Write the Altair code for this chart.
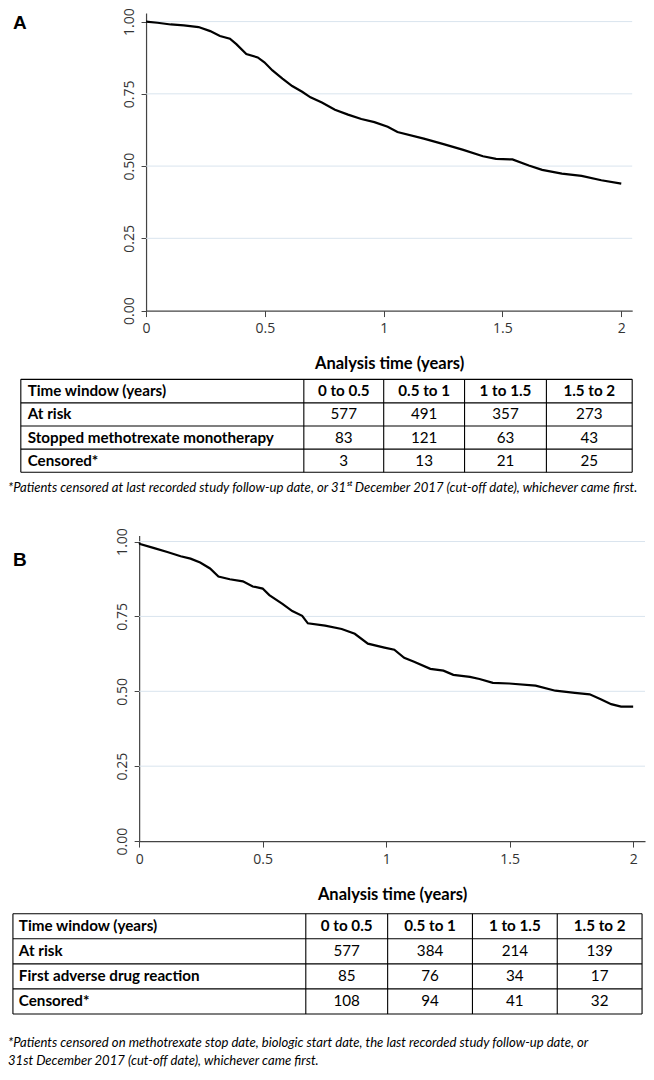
import altair as alt
import pandas as pd

# ---------------- data ----------------
time_a = [0, 0.048, 0.104, 0.159, 0.221, 0.27, 0.311, 0.353, 0.38, 0.422, 0.47, 0.498,
          0.532, 0.574, 0.615, 0.657, 0.692, 0.74, 0.795, 0.85, 0.906, 0.961, 1.017,
          1.058, 1.169, 1.252, 1.335, 1.418, 1.473, 1.542, 1.611, 1.667, 1.75, 1.833,
          1.916, 2.0]
surv_a = [1.0, 0.996, 0.990, 0.987, 0.981, 0.967, 0.950, 0.941, 0.922, 0.888, 0.876, 0.859,
          0.831, 0.803, 0.777, 0.757, 0.738, 0.720, 0.695, 0.678, 0.663, 0.652, 0.636,
          0.618, 0.595, 0.576, 0.556, 0.534, 0.525, 0.523, 0.502, 0.487, 0.474, 0.466,
          0.451, 0.439]

time_b = [0, 0.004, 0.061, 0.114, 0.168, 0.208, 0.247, 0.287, 0.321, 0.367, 0.42, 0.46,
          0.5, 0.527, 0.58, 0.62, 0.66, 0.683, 0.753, 0.82, 0.873, 0.926, 0.993, 1.033,
          1.073, 1.113, 1.179, 1.232, 1.272, 1.339, 1.378, 1.432, 1.498, 1.605, 1.685,
          1.764, 1.824, 1.871, 1.911, 1.951, 2.0]
surv_b = [0.995, 0.992, 0.978, 0.965, 0.951, 0.943, 0.930, 0.910, 0.883, 0.874, 0.867, 0.850,
          0.843, 0.821, 0.792, 0.768, 0.752, 0.727, 0.719, 0.708, 0.692, 0.659, 0.646, 0.639,
          0.612, 0.599, 0.575, 0.569, 0.555, 0.548, 0.541, 0.528, 0.526, 0.519, 0.502,
          0.495, 0.490, 0.473, 0.457, 0.449, 0.449]

y_ticks = [0.0, 0.25, 0.5, 0.75, 1.0]
x_ticks = [0, 0.5, 1, 1.5, 2]
grid_levels = [0.25, 0.5, 0.75, 1.0]

table_header = ["Time window (years)", "0 to 0.5", "0.5 to 1", "1 to 1.5", "1.5 to 2"]
row_labels_a = ["At risk", "Stopped methotrexate monotherapy", "Censored*"]
at_risk_a = [577, 491, 357, 273]
stopped_a = [83, 121, 63, 43]
censored_a = [3, 13, 21, 25]
row_labels_b = ["At risk", "First adverse drug reaction", "Censored*"]
at_risk_b = [577, 384, 214, 139]
adr_b = [85, 76, 34, 17]
censored_b = [108, 94, 41, 32]

panel_labels = ["A", "B"]
x_title = "Analysis time (years)"
footnote_a = ["*Patients censored at last recorded study follow-up date, or 31\u02e2\u1d57 December 2017 "
              "(cut-off date), whichever came first."]
footnote_b = ["*Patients censored on methotrexate stop date, biologic start date, the last recorded "
              "study follow-up date, or",
              "31st December 2017 (cut-off date), whichever came first."]

# ---------------- layout (reference page pixels) ----------------
PAGE_W, PAGE_H = 654, 1080
VIEW_W, VIEW_H = 638, 1060                 # drawing area that fits inside the window
X_LEFT, X_RIGHT = 5, 652                   # horizontal extent of the reference content
Y_TOP, Y_BOT = 3, 1082                     # vertical extent of the reference content
KX = VIEW_W / (X_RIGHT - X_LEFT)
KY = VIEW_H / (Y_BOT - Y_TOP)


def rx(x):
    return (x - X_LEFT) * KX


def ry(y):
    return (y - Y_TOP) * KY


PLOT_A = dict(x0=145, x1=638, tmax=2.046, y0=311, y1=8, smax=1.03)
PLOT_B = dict(x0=138, x1=651, tmax=2.048, y0=851, y1=540, smax=1.02)

TABLE_A = dict(x=[18, 305, 386, 468, 551, 638], y=[381, 405, 428.5, 452, 475.5], pad=7)
TABLE_B = dict(x=[10, 307, 390, 476, 562, 648], y=[925, 950.5, 976, 1001.5, 1027], pad=6)

LABEL_POS = [(10, 18), (10, 565)]
FOOT_A_POS = [(5, 492)]
FOOT_B_POS = [(5, 1057), (5, 1075)]

TICK_FONT = "Open Sans"
TEXT_FONT = "Lato"
AXIS_COL = "#444444"
GRID_COL = "#d9e4ee"
TABLE_FS = 15.2
FOOT_FS = 13.1


def page_x():
    return alt.Scale(domain=[0, PAGE_W], range=[rx(0), rx(PAGE_W)], nice=False, zero=False)


def page_y():
    return alt.Scale(domain=[0, PAGE_H], range=[ry(0), ry(PAGE_H)], nice=False, zero=False)


def km_layers(times, surv, frame):
    df = pd.DataFrame({"t": times, "s": surv})
    xr = [rx(frame["x0"]), rx(frame["x1"])]
    yr = [ry(frame["y0"]), ry(frame["y1"])]

    def xs():
        return alt.Scale(domain=[0, frame["tmax"]], range=xr, nice=False, zero=False)

    def ys():
        return alt.Scale(domain=[0, frame["smax"]], range=yr, nice=False, zero=False)

    grid_df = pd.DataFrame({"g": grid_levels, "a": [0] * len(grid_levels),
                            "b": [frame["tmax"]] * len(grid_levels)})
    grid = alt.Chart(grid_df).mark_rule(color=GRID_COL, strokeWidth=1).encode(
        x=alt.X("a:Q", scale=xs(), axis=None),
        x2="b:Q",
        y=alt.Y("g:Q", scale=ys(), axis=None),
    )
    line = alt.Chart(df).mark_line(color="black", strokeWidth=2.2, interpolate="linear").encode(
        x=alt.X("t:Q", scale=xs(), axis=alt.Axis(
            orient="bottom", offset=yr[0] - VIEW_H, values=x_ticks, format="~g",
            labelFont=TICK_FONT, labelFontSize=14, labelColor="#333333", labelPadding=5,
            tickSize=6, tickColor=AXIS_COL, domainColor=AXIS_COL, domainWidth=1.2,
            grid=False, labelFlush=False, labelOverlap=False,
            title=x_title, titleFont=TEXT_FONT, titleFontSize=16.5, titleFontWeight="bold",
            titleColor="black", titlePadding=20)),
        y=alt.Y("s:Q", scale=ys(), axis=alt.Axis(
            orient="left", offset=-xr[0], values=y_ticks, format=".2f",
            labelFont=TICK_FONT, labelFontSize=14, labelColor="#333333",
            labelAngle=270, labelAlign="center", labelBaseline="bottom", labelPadding=5,
            tickSize=5, tickColor=AXIS_COL, domainColor=AXIS_COL, domainWidth=1.2,
            grid=False, labelFlush=False, labelOverlap=False, title=None)),
    )
    return [grid, line]


def table_frames(tab):
    xs, ys = tab["x"], tab["y"]
    rows = []
    for y in ys:
        rows.append({"x1": xs[0], "x2": xs[-1], "y1": y, "y2": y})
    for x in xs:
        rows.append({"x1": x, "x2": x, "y1": ys[0], "y2": ys[-1]})
    return rows


def table_cells(tab, labels, series):
    xs, ys = tab["x"], tab["y"]
    mids_y = [(ys[i] + ys[i + 1]) / 2 for i in range(len(ys) - 1)]
    mids_x = [(xs[i] + xs[i + 1]) / 2 for i in range(1, len(xs) - 1)]
    bold_left, bold_center, plain = [], [], []
    bold_left.append({"x": xs[0] + tab["pad"], "y": mids_y[0], "t": table_header[0]})
    for j, h in enumerate(table_header[1:]):
        bold_center.append({"x": mids_x[j], "y": mids_y[0], "t": h})
    for i, (lab, vals) in enumerate(zip(labels, series)):
        bold_left.append({"x": xs[0] + tab["pad"], "y": mids_y[i + 1], "t": lab})
        for j, v in enumerate(vals):
            plain.append({"x": mids_x[j], "y": mids_y[i + 1], "t": str(v)})
    return bold_left, bold_center, plain


bl_a, bc_a, pl_a = table_cells(TABLE_A, row_labels_a, [at_risk_a, stopped_a, censored_a])
bl_b, bc_b, pl_b = table_cells(TABLE_B, row_labels_b, [at_risk_b, adr_b, censored_b])

frames_df = pd.DataFrame(table_frames(TABLE_A) + table_frames(TABLE_B))
bold_left_df = pd.DataFrame(bl_a + bl_b)
bold_center_df = pd.DataFrame(bc_a + bc_b)
plain_df = pd.DataFrame(pl_a + pl_b)
foot_df = pd.DataFrame(
    [{"x": p[0], "y": p[1], "t": t} for p, t in zip(FOOT_A_POS, footnote_a)]
    + [{"x": p[0], "y": p[1], "t": t} for p, t in zip(FOOT_B_POS, footnote_b)])
label_df = pd.DataFrame([{"x": p[0], "y": p[1], "t": t} for p, t in zip(LABEL_POS, panel_labels)])


def px_enc():
    return dict(x=alt.X("x:Q", scale=page_x(), axis=None),
                y=alt.Y("y:Q", scale=page_y(), axis=None),
                text="t:N")


table_rules = alt.Chart(frames_df).mark_rule(color="black", strokeWidth=1.1).encode(
    x=alt.X("x1:Q", scale=page_x(), axis=None), x2="x2:Q",
    y=alt.Y("y1:Q", scale=page_y(), axis=None), y2="y2:Q")
t_bold_left = alt.Chart(bold_left_df).mark_text(
    align="left", baseline="middle", font=TEXT_FONT, fontSize=TABLE_FS, fontWeight="bold",
    color="black").encode(**px_enc())
t_bold_center = alt.Chart(bold_center_df).mark_text(
    align="center", baseline="middle", font=TEXT_FONT, fontSize=TABLE_FS, fontWeight="bold",
    color="black").encode(**px_enc())
t_plain = alt.Chart(plain_df).mark_text(
    align="center", baseline="middle", font=TEXT_FONT, fontSize=TABLE_FS, color="black").encode(**px_enc())
t_foot = alt.Chart(foot_df).mark_text(
    align="left", baseline="middle", font=TEXT_FONT, fontSize=FOOT_FS, fontStyle="italic",
    color="black").encode(**px_enc())
t_label = alt.Chart(label_df).mark_text(
    align="left", baseline="middle", font="Liberation Sans", fontSize=19, fontWeight="bold",
    color="black").encode(**px_enc())

layers = (km_layers(time_a, surv_a, PLOT_A) + km_layers(time_b, surv_b, PLOT_B)
          + [table_rules, t_bold_left, t_bold_center, t_plain, t_foot, t_label])

chart = alt.layer(*layers).resolve_scale(
    x="independent", y="independent"
).resolve_axis(
    x="independent", y="independent"
).properties(
    width=VIEW_W, height=VIEW_H, padding=0, background="white",
    autosize=alt.AutoSizeParams(type="none"),
).configure_view(stroke=None)

chart.save("out.html", embed_options={"renderer": "svg", "actions": False})
